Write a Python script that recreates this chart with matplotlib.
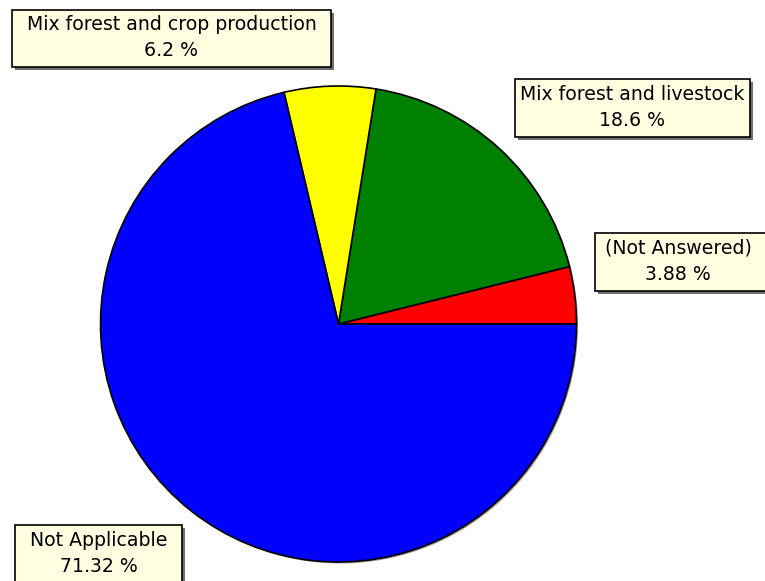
import matplotlib
matplotlib.use("Agg")
import matplotlib.pyplot as plt
from matplotlib.patches import Rectangle

# --- Data ---
labels = ["(Not Answered)", "Mix forest and livestock",
          "Mix forest and crop production", "Not Applicable"]
values = [3.88, 18.6, 6.2, 71.32]
pct_text = ["3.88 %", "18.6 %", "6.2 %", "71.32 %"]
colors = ["#FF0000", "#008000", "#FFFF00", "#0000FF"]

W, H = 765, 581

fig = plt.figure(figsize=(W / 100, H / 100), dpi=100)
ax = fig.add_axes([0, 0, 1, 1])

# pie in pixel coordinates (y measured from the bottom)
cx, cy, r = 338.5, H - 324, 238
# faint drop shadow round the pie
ax.pie([1], radius=r, center=(cx + 1.5, cy - 1.5), colors=["#9a9a9a"],
       wedgeprops=dict(linewidth=0), frame=True)
ax.pie(values, radius=r, center=(cx, cy), colors=colors, startangle=0,
       counterclock=True,
       wedgeprops=dict(edgecolor="black", linewidth=1.2), frame=True)

# label boxes: (left, top, right, bottom) in image pixels
boxes = [(595, 233, 775, 291), (515, 79, 750, 137),
         (12, 10, 331, 67), (15, 525, 182, 590)]

for (l, t, rgt, b), lab, pct in zip(boxes, labels, pct_text):
    ax.add_patch(Rectangle((l + 3, H - b - 3), rgt - l, b - t,
                           facecolor="#707070", edgecolor="none", zorder=5))
    ax.add_patch(Rectangle((l, H - b), rgt - l, b - t,
                           facecolor="#FFFFE1", edgecolor="black",
                           linewidth=1.2, zorder=6))
    xc = (l + min(rgt, 761)) / 2
    ax.text(xc, H - (t + 15), lab, ha="center", va="center",
            fontsize=13.6, family="DejaVu Sans", zorder=7)
    ax.text(xc, H - (t + 41), pct, ha="center", va="center",
            fontsize=13.6, family="DejaVu Sans", zorder=7)

ax.set_xlim(0, W)
ax.set_ylim(0, H)
ax.set_aspect("auto")
ax.axis("off")

fig.savefig("out.png", dpi=100, facecolor="white")
